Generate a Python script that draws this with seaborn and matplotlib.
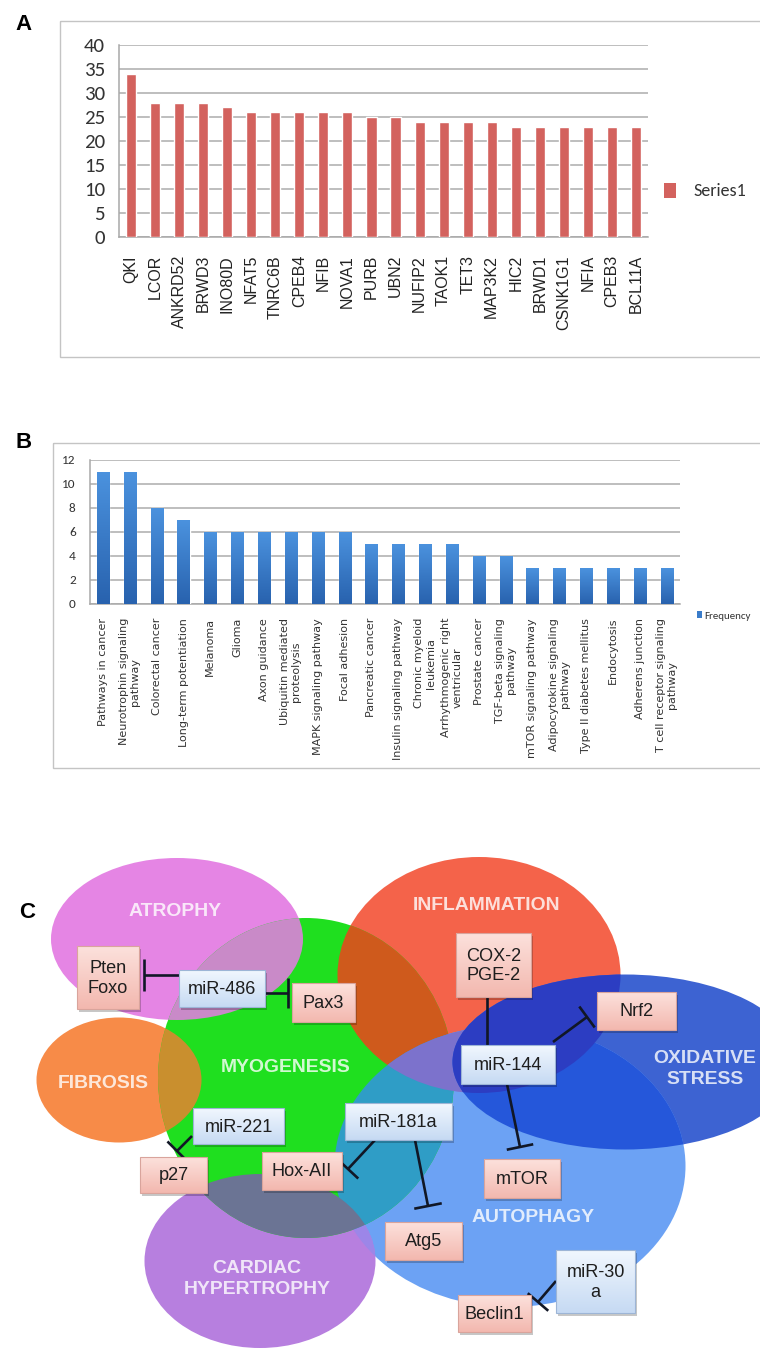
import numpy as np
import pandas as pd
import matplotlib
matplotlib.use("Agg")
import matplotlib.pyplot as plt
import seaborn as sns
from matplotlib.patches import Ellipse, Rectangle, Patch
from matplotlib.colors import LinearSegmentedColormap
from matplotlib import font_manager as fm

# ---------------- data ----------------
# Panel A: predicted target genes and number of hits
genes = ["QKI", "LCOR", "ANKRD52", "BRWD3", "INO80D", "NFAT5", "TNRC6B", "CPEB4",
         "NFIB", "NOVA1", "PURB", "UBN2", "NUFIP2", "TAOK1", "TET3", "MAP3K2",
         "HIC2", "BRWD1", "CSNK1G1", "NFIA", "CPEB3", "BCL11A"]
gene_counts = [34, 28, 28, 28, 27, 26, 26, 26, 26, 26, 25, 25, 24, 24, 24, 24,
               23, 23, 23, 23, 23, 23]
a_yticks = [0, 5, 10, 15, 20, 25, 30, 35, 40]
a_series = "Series1"

# Panel B: KEGG pathway frequencies
pathways = ["Pathways in cancer", "Neurotrophin signaling\npathway", "Colorectal cancer",
            "Long-term potentiation", "Melanoma", "Glioma", "Axon guidance",
            "Ubiquitin mediated\nproteolysis", "MAPK signaling pathway", "Focal adhesion",
            "Pancreatic cancer", "Insulin signaling pathway", "Chronic myeloid\nleukemia",
            "Arrhythmogenic right\nventricular", "Prostate cancer",
            "TGF-beta signaling\npathway", "mTOR signaling pathway",
            "Adipocytokine signaling\npathway", "Type II diabetes mellitus", "Endocytosis",
            "Adherens junction", "T cell receptor signaling\npathway"]
pathway_freq = [11, 11, 8, 7, 6, 6, 6, 6, 6, 6, 5, 5, 5, 5, 4, 4, 3, 3, 3, 3, 3, 3]
b_yticks = [0, 2, 4, 6, 8, 10, 12]
b_series = "Frequency"

# Panel C: processes, miRNAs, targets and inhibitory links
processes = ["ATROPHY", "INFLAMMATION", "MYOGENESIS", "FIBROSIS", "AUTOPHAGY",
             "OXIDATIVE\nSTRESS", "CARDIAC\nHYPERTROPHY"]
mirnas = ["miR-486", "miR-144", "miR-221", "miR-181a", "miR-30\na"]
targets = ["Pten\nFoxo", "Pax3", "COX-2\nPGE-2", "Nrf2", "mTOR", "p27", "Hox-AII",
           "Atg5", "Beclin1"]
inhibitions = [("miR-486", "Pten\nFoxo"), ("miR-486", "Pax3"),
               ("miR-144", "COX-2\nPGE-2"), ("miR-144", "Nrf2"), ("miR-144", "mTOR"),
               ("miR-221", "p27"), ("miR-181a", "Hox-AII"), ("miR-181a", "Atg5"),
               ("miR-30\na", "Beclin1")]

# ---------------- fonts ----------------
_installed = {f.name for f in fm.fontManager.ttflist}


def pick(*names):
    for n in names:
        if n in _installed:
            return n
    return "DejaVu Sans"


NARROW = pick("Liberation Sans Narrow", "Arial Narrow", "Liberation Sans")
NSCALE = 1.0 if "Narrow" in NARROW else 0.87
SANS = pick("Liberation Sans", "Arial", "DejaVu Sans")
CALI = pick("Carlito", "Calibri", NARROW)
CSCALE = 1.0 if CALI in ("Carlito", "Calibri") else NSCALE

sns.set_theme(style="white")
plt.rcParams["font.family"] = [SANS, "DejaVu Sans"]

# ---------------- figure / canvas ----------------
W, H = 760, 1349
fig = plt.figure(figsize=(W / 100, H / 100), dpi=100)
fig.patch.set_facecolor("white")

# full-figure canvas in pixel units (y grows downwards)
canvas = fig.add_axes([0, 0, 1, 1], zorder=0)
canvas.set_xlim(0, W)
canvas.set_ylim(H, 0)
canvas.axis("off")


def px_axes(l, t, r, b, **kw):
    return fig.add_axes([l / W, 1 - b / H, (r - l) / W, (b - t) / H], **kw)


GRID = "#B9B9B9"
AXC = "#A8A8A8"

# panel frames and letters
for (x0, y0, x1, y1) in [(60, 21, 780, 357), (53, 443, 780, 768)]:
    canvas.add_patch(Rectangle((x0, y0), x1 - x0, y1 - y0, facecolor="none",
                               edgecolor="#C4C4C4", lw=1.0, zorder=1))
for letter, (lx, ly) in zip("ABC", [(24, 24), (24, 443), (27, 912)]):
    canvas.text(lx, ly, letter, ha="center", va="center", fontsize=16,
                fontweight="bold", family=SANS, color="black", zorder=20)


def style_bar_axes(ax, n, yticks, ylab_size, xpad):
    ax.set_facecolor("none")
    ax.set_axisbelow(True)
    ax.set_xlim(-0.5, n - 0.5)
    ax.set_ylim(yticks[0], yticks[-1])
    ax.set_yticks(yticks)
    ax.yaxis.grid(True, color=GRID, lw=1.3)
    ax.xaxis.grid(False)
    for s in ("top", "right"):
        ax.spines[s].set_visible(False)
    for s in ("left", "bottom"):
        ax.spines[s].set_color(AXC)
        ax.spines[s].set_linewidth(1.1)
    ax.set_xlabel("")
    ax.set_ylabel("")
    # category boundaries carry the x tick marks
    ax.set_xticks(np.arange(-0.5, n, 1.0), minor=True)
    ax.tick_params(axis="x", which="major", length=0, pad=xpad)
    ax.tick_params(axis="x", which="minor", length=4, width=1, color=AXC, direction="out")
    ax.tick_params(axis="y", which="major", length=4, width=1, color=AXC, direction="out",
                   pad=6, labelsize=ylab_size, labelcolor="#333333")
    for lab in ax.get_yticklabels():
        lab.set_fontfamily(CALI)


# ---------------- panel A ----------------
axA = px_axes(119, 45, 648, 237, zorder=2)
dfA = pd.DataFrame({"gene": genes, "count": gene_counts})
RED = "#D3625E"
sns.barplot(data=dfA, x="gene", y="count", color=RED, saturation=1, width=0.42,
            ax=axA, zorder=3)
style_bar_axes(axA, len(genes), a_yticks, 15 * CSCALE, 13)
axA.set_xticks(np.arange(len(genes)))
axA.set_xticklabels(genes, rotation=90, fontsize=11.5, family=SANS, color="#222222")
axA.legend(handles=[Patch(facecolor=RED, edgecolor="none", label=a_series)],
           loc="center left", bbox_to_anchor=(664 / W, 1 - 191 / H),
           bbox_transform=fig.transFigure, frameon=False, handlelength=0.65,
           handleheight=0.9, handletextpad=1.0, borderpad=0, borderaxespad=0,
           prop={"family": CALI, "size": 13 * CSCALE}, labelcolor="#333333")

# ---------------- panel B ----------------
axB = px_axes(89.6, 460, 680, 604, zorder=2)
dfB = pd.DataFrame({"pathway": pathways, "freq": pathway_freq})
BLUE = "#3A7CCA"
sns.barplot(data=dfB, x="pathway", y="freq", color=BLUE, saturation=1, width=0.45,
            ax=axB, zorder=3)
style_bar_axes(axB, len(pathways), b_yticks, 9.5 * CSCALE, 10)
axB.set_xticks(np.arange(len(pathways)))
axB.set_xticklabels(pathways, rotation=90, fontsize=8.0, family="DejaVu Sans",
                    color="#333333", multialignment="center", linespacing=1.15)
# vertical shading on each bar
bar_cmap = LinearSegmentedColormap.from_list("barshade", ["#4B92DE", "#2862AE"])
shade = np.linspace(0, 1, 128).reshape(-1, 1)
for p in list(axB.patches):
    x, w, h = p.get_x(), p.get_width(), p.get_height()
    im = axB.imshow(shade, extent=(x, x + w, 0, h), origin="upper", cmap=bar_cmap,
                    aspect="auto", zorder=3.5, interpolation="bilinear")
    im.set_clip_path(p)
axB.set_xlim(-0.5, len(pathways) - 0.5)
axB.set_ylim(0, 12)
axB.legend(handles=[Patch(facecolor=BLUE, edgecolor="none", label=b_series)],
           loc="center left", bbox_to_anchor=(697 / W, 1 - 616 / H),
           bbox_transform=fig.transFigure, frameon=False, handlelength=0.45,
           handleheight=0.6, handletextpad=0.2, borderpad=0, borderaxespad=0,
           prop={"family": CALI, "size": 7.8}, labelcolor="#333333")

# ---------------- panel C ----------------
shapes = {
    "ATROPHY": ((177, 939), 252, 162, "#E585E4"),
    "INFLAMMATION": ((479, 975), 283, 236, "#F4634A"),
    "OXIDATIVE\nSTRESS": ((625, 1062), 345, 175, "#3D63D2"),
    "AUTOPHAGY": ((510, 1166), 351, 282, "#6CA2F4"),
    "CARDIAC\nHYPERTROPHY": ((260, 1261), 231, 174, "#B77FDF"),
    "FIBROSIS": ((119, 1080), 165, 125, "#F78B48"),
    "MYOGENESIS": ((306, 1078), 296, 320, "#1FDF1F"),
}
overlaps = [
    ("CARDIAC\nHYPERTROPHY", "AUTOPHAGY", "#9C86E8"),
    ("MYOGENESIS", "INFLAMMATION", "#CF5A1C"),
    ("MYOGENESIS", "AUTOPHAGY", "#2F9DC6"),
    ("INFLAMMATION", "AUTOPHAGY", "#7C72CC"),
    ("ATROPHY", "MYOGENESIS", "#C98AC8"),
    ("FIBROSIS", "MYOGENESIS", "#C98F2E"),
    ("AUTOPHAGY", "OXIDATIVE\nSTRESS", "#2557DA"),
    ("INFLAMMATION", "OXIDATIVE\nSTRESS", "#2C3DC2"),
    ("CARDIAC\nHYPERTROPHY", "MYOGENESIS", "#6B7494"),
]
label_pos = {
    "ATROPHY": (175, 912), "INFLAMMATION": (487, 905), "MYOGENESIS": (286, 1067),
    "FIBROSIS": (103, 1083), "AUTOPHAGY": (533, 1218),
    "OXIDATIVE\nSTRESS": (705, 1069), "CARDIAC\nHYPERTROPHY": (257, 1279),
}


def make_ellipse(key, color):
    (cx, cy), w, h, _ = shapes[key]
    return Ellipse((cx, cy), w, h, facecolor=color, edgecolor="none",
                   transform=canvas.transData)


for key in shapes:
    base = make_ellipse(key, shapes[key][3])
    base.set_zorder(2)
    canvas.add_patch(base)
for a, b, col in overlaps:
    patch = make_ellipse(a, col)
    patch.set_zorder(3)
    canvas.add_patch(patch)
    patch.set_clip_path(make_ellipse(b, "none"))

for key in processes:
    x, y = label_pos[key]
    canvas.text(x, y, key, ha="center", va="center", fontsize=16 * NSCALE,
                fontweight="bold", family=NARROW, color="white", alpha=0.8,
                linespacing=1.25, zorder=4)

boxes = {
    "Pten\nFoxo": (77, 946, 139, 1009),
    "miR-486": (179, 970, 265, 1007),
    "Pax3": (292, 983, 355, 1022),
    "COX-2\nPGE-2": (456, 933, 531, 997),
    "Nrf2": (597, 992, 676, 1030),
    "miR-144": (461, 1045, 555, 1084),
    "miR-221": (193, 1108, 284, 1144),
    "miR-181a": (345, 1103, 452, 1140),
    "p27": (140, 1157, 207, 1193),
    "Hox-AII": (262, 1152, 342, 1190),
    "mTOR": (484, 1159, 560, 1198),
    "Atg5": (385, 1222, 462, 1260),
    "miR-30\na": (556, 1250, 635, 1313),
    "Beclin1": (458, 1295, 531, 1332),
}
box_style = {
    "target": ("#FCE1DC", "#F3B8AF", "#D9A49C"),
    "mirna": ("#F1F7FE", "#C6DAF3", "#9DB5D6"),
}
links = {
    ("miR-486", "Pten\nFoxo"): ((179, 975), (144, 975), 32),
    ("miR-486", "Pax3"): ((265, 993), (288, 993), 30),
    ("miR-144", "COX-2\nPGE-2"): ((487, 1045), (487, 993), 22),
    ("miR-144", "Nrf2"): ((553, 1042), (587, 1017), 26),
    ("miR-144", "mTOR"): ((507, 1084), (520, 1147), 27),
    ("miR-221", "p27"): ((192, 1136), (177, 1151), 27),
    ("miR-181a", "Hox-AII"): ((375, 1140), (348, 1169), 28),
    ("miR-181a", "Atg5"): ((415, 1140), (428, 1206), 28),
    ("miR-30\na", "Beclin1"): ((556, 1281), (538, 1302), 27),
}
LINE = "#111726"
for src, dst in inhibitions:
    p0, p1, L = links[(src, dst)]
    p0, p1 = np.array(p0, float), np.array(p1, float)
    d = (p1 - p0) / np.hypot(*(p1 - p0))
    nrm = np.array([-d[1], d[0]])
    canvas.plot([p0[0], p1[0]], [p0[1], p1[1]], color=LINE, lw=1.9,
                solid_capstyle="butt", zorder=5)
    e0, e1 = p1 + nrm * L / 2, p1 - nrm * L / 2
    canvas.plot([e0[0], e1[0]], [e0[1], e1[1]], color=LINE, lw=1.9,
                solid_capstyle="butt", zorder=5)

grad = np.linspace(0, 1, 64).reshape(-1, 1)
for name in targets + mirnas:
    kind = "mirna" if name in mirnas else "target"
    top, bot, edge = box_style[kind]
    x0, y0, x1, y1 = boxes[name]
    canvas.add_patch(Rectangle((x0 + 2, y0 + 3), x1 - x0, y1 - y0, facecolor="black",
                               alpha=0.22, edgecolor="none", zorder=6))
    cmap = LinearSegmentedColormap.from_list(kind, [top, bot])
    canvas.imshow(grad, extent=(x0, x1, y1, y0), origin="upper", cmap=cmap,
                  aspect="auto", zorder=7, interpolation="bilinear")
    canvas.add_patch(Rectangle((x0, y0), x1 - x0, y1 - y0, facecolor="none",
                               edgecolor=edge, lw=0.8, zorder=8))
    canvas.text((x0 + x1) / 2, (y0 + y1) / 2 + 1, name, ha="center", va="center",
                fontsize=15 * NSCALE, family=NARROW, color="#1E1E1E",
                linespacing=1.2, zorder=9)

canvas.set_xlim(0, W)
canvas.set_ylim(H, 0)

fig.savefig("out.png", dpi=100, facecolor="white")
